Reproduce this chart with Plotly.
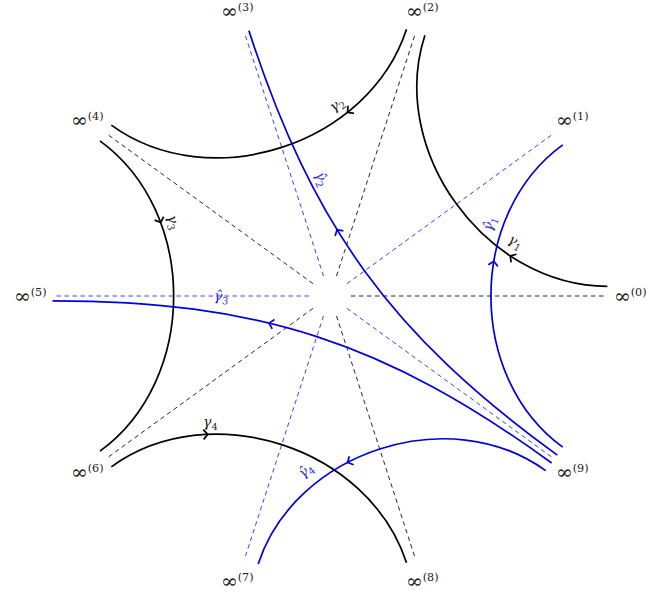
import math
import plotly.graph_objects as go

# ---- data (pixel offsets from centre, y up; angles in degrees) ----
RAY_ANGLES = [0, 36, 72, 108, 144, 180, 216, 252, 288, 324]
RAY_COLORS = ["#111111", "#2828ff", "#111111", "#2828ff", "#111111",
              "#2828ff", "#111111", "#2828ff", "#111111", "#2828ff"]
RAY_INNER = 21
RAY_OUTER = 277
INF_LABELS = ["<span style='font-size:20px'>∞</span><sup>(%d)</sup>" % k for k in range(10)]
INF_LABEL_RADIUS = 300

# curves: asymptote where it starts, asymptote where it ends, turning sense,
# angular offset of the end points from the asymptotes, end radius
CURVE_START = [0, 72, 144, 216, -36, -36, -36, -36]
CURVE_END = [72, 144, 216, 288, 36, 108, -180, -108]
CURVE_SENSE = [1, 1, 1, 1, 1, 1, -1, -1]
CURVE_END_OFFSET = [2.0, 2.0, 2.0, 2.0, 3.0, 1.0, 1.0, 3.0]
CURVE_END_RADIUS = 277.5
LOOSENESS = 0.3915
CURVE_COLOR = ["#000000"] * 4 + ["#0000dc"] * 4
ARROW_POS = [0.29, 0.29, 0.29, 0.29, 0.6, 0.6, 0.6, 0.6]

CURVE_LABELS = ["<i>γ</i><sub>1</sub>", "<i>γ</i><sub>2</sub>", "<i>γ</i><sub>3</sub>",
                "<i>γ</i><sub>4</sub>", "<i>γ̂</i><sub>1</sub>", "<i>γ̂</i><sub>2</sub>",
                "<i>γ̂</i><sub>3</sub>", "<i>γ̂</i><sub>4</sub>"]
LABEL_X = [185, 7, -157, -120, 160, -9, -109, -24]
LABEL_Y = [54, 191, 74, -127, 72, 117, -1, -175]
LABEL_ANGLE = [30, -35, 75, 0, -70, 68, 6, -38]
LABEL_COLOR = ["#222222"] * 4 + ["#2a2ae0"] * 4


def polar(r, a):
    t = math.radians(a)
    return r * math.cos(t), r * math.sin(t)


fig = go.Figure()

# dashed rays
for a, c in zip(RAY_ANGLES, RAY_COLORS):
    x0, y0 = polar(RAY_INNER, a)
    x1, y1 = polar(RAY_OUTER, a)
    fig.add_trace(go.Scatter(x=[x0, x1], y=[y0, y1], mode="lines",
                             line=dict(color=c, width=0.9, dash="4.5px,3.5px"),
                             hoverinfo="skip", showlegend=False))

shapes = []
for i in range(8):
    s = CURVE_SENSE[i]
    A = polar(CURVE_END_RADIUS, CURVE_START[i] + s * CURVE_END_OFFSET[i])
    D = polar(CURVE_END_RADIUS, CURVE_END[i] - s * CURVE_END_OFFSET[i])
    L = LOOSENESS * math.hypot(D[0] - A[0], D[1] - A[1])
    ua = polar(1, CURVE_START[i] + 180)
    ud = polar(1, CURVE_END[i] + 180)
    B = (A[0] + L * ua[0], A[1] + L * ua[1])
    C = (D[0] + L * ud[0], D[1] + L * ud[1])
    col = CURVE_COLOR[i]
    shapes.append(dict(type="path", xref="x", yref="y", layer="above",
                       path="M %.2f,%.2f C %.2f,%.2f %.2f,%.2f %.2f,%.2f" % (A + B + C + D),
                       line=dict(color=col, width=1.7)))
    # arrow tip (chevron) at the marked position along the curve
    t = ARROW_POS[i]
    m = 1 - t
    P = tuple(m ** 3 * A[k] + 3 * m * m * t * B[k] + 3 * m * t * t * C[k] + t ** 3 * D[k] for k in range(2))
    T = tuple(3 * m * m * (B[k] - A[k]) + 6 * m * t * (C[k] - B[k]) + 3 * t * t * (D[k] - C[k]) for k in range(2))
    n = math.hypot(*T)
    dx, dy = T[0] / n, T[1] / n
    arms = []
    for sg in (1, -1):
        ang = math.radians(180 + sg * 48)
        bx = dx * math.cos(ang) - dy * math.sin(ang)
        by = dx * math.sin(ang) + dy * math.cos(ang)
        arms.append((P[0] + 6.5 * bx, P[1] + 6.5 * by))
    shapes.append(dict(type="path", xref="x", yref="y", layer="above",
                       path="M %.2f,%.2f L %.2f,%.2f L %.2f,%.2f" % (arms[0] + P + arms[1]),
                       line=dict(color=col, width=1.7)))

# infinity labels
for a, txt in zip(RAY_ANGLES, INF_LABELS):
    x, y = polar(INF_LABEL_RADIUS, a)
    fig.add_annotation(x=x, y=y, text=txt, showarrow=False, xanchor="center", yanchor="middle",
                       font=dict(family="DejaVu Serif", size=16, color="#222222"))

# curve labels
for i in range(8):
    fig.add_annotation(x=LABEL_X[i], y=LABEL_Y[i], text=CURVE_LABELS[i], showarrow=False,
                       textangle=LABEL_ANGLE[i], xanchor="center", yanchor="middle",
                       font=dict(family="DejaVu Serif", size=14, color=LABEL_COLOR[i]))

fig.update_layout(
    width=648, height=598, margin=dict(l=0, r=0, t=0, b=0),
    paper_bgcolor="white", plot_bgcolor="white", showlegend=False,
    shapes=shapes,
    xaxis=dict(range=[-330, 318], visible=False, fixedrange=True),
    yaxis=dict(range=[-302, 296], visible=False, fixedrange=True),
)
# remove the page's default body margin so the figure sits at the window's corner
fig.write_html("out.html", config={"displayModeBar": False},
               post_script="document.body.style.margin='0px';")
